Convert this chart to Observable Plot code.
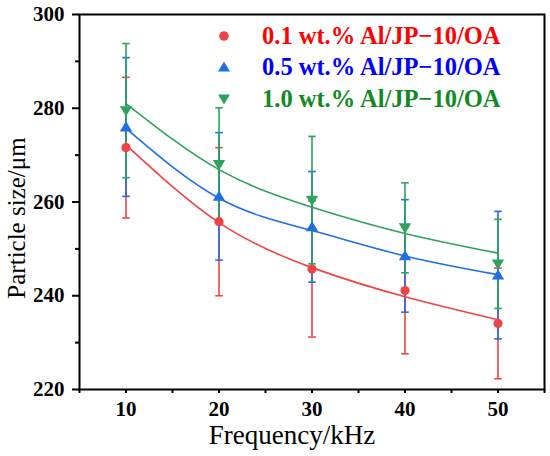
<!DOCTYPE html>
<html><head><meta charset="utf-8">
<script src="https://cdn.jsdelivr.net/npm/d3@7"></script>
<script src="https://cdn.jsdelivr.net/npm/@observablehq/plot@0.6"></script>
<style>
body{margin:0;background:#fff;}
#wrap{position:relative;width:550px;height:456px;}
#legend{position:absolute;left:214px;top:20px;font-family:"Liberation Serif",serif;font-weight:bold;font-size:24.5px;}
#legend .row{height:31.6px;display:flex;align-items:center;white-space:nowrap;}
#legend svg{width:20px;height:20px;margin-right:28px;}
</style></head>
<body><div id="wrap"><div id="legend"></div></div>
<script>
const freq = [10, 20, 30, 40, 50];
const seriesNames = ["0.1 wt.% Al/JP\u221210/OA", "0.5 wt.% Al/JP\u221210/OA", "1.0 wt.% Al/JP\u221210/OA"];
const markerColors = ["#f04343", "#1f6fe3", "#2ea35e"];
const textColors = ["#ff0000", "#0000ff", "#118a25"];
const meanRed = [271.6, 255.8, 245.7, 241.1, 234.1];
const errRed = [15.0, 15.8, 14.5, 13.5, 11.8];
const meanBlue = [276.0, 261.2, 254.7, 248.5, 244.4];
const errBlue = [14.8, 13.6, 11.8, 12.0, 13.6];
const meanGreen = [279.5, 268.0, 260.4, 254.5, 246.8];
const errGreen = [14.3, 12.1, 13.6, 9.6, 9.5];
const fitRed = [272.2, 255.6, 246.0, 239.8, 234.9];
const fitBlue = [275.7, 260.8, 253.9, 248.5, 244.5];
const fitGreen = [281.0, 266.9, 258.9, 253.3, 249.1];
const yTicks = [220, 240, 260, 280, 300];
const yMinor = [230, 250, 270, 290];
const xTicks = [10, 20, 30, 40, 50];
const xMinor = [5, 15, 25, 35, 45, 55];

const means = [meanRed, meanBlue, meanGreen];
const errs = [errRed, errBlue, errGreen];
const fits = [fitRed, fitBlue, fitGreen];
const pts = [], fitPts = [];
means.forEach((m, s) => m.forEach((v, i) => pts.push({s, x: freq[i], y: v, lo: v - errs[s][i], hi: v + errs[s][i]})));
fits.forEach((f, s) => f.forEach((v, i) => fitPts.push({s, x: freq[i], y: v})));

const capSym = {draw(ctx, size){ const w = 3.8; ctx.moveTo(-w, 0); ctx.lineTo(w, 0); }};
const triDown = {draw(ctx, size){ const r = Math.sqrt(size) ; ctx.moveTo(-r*0.62, -r*0.45); ctx.lineTo(r*0.62, -r*0.45); ctx.lineTo(0, r*0.6); ctx.closePath(); }};
const triUp = {draw(ctx, size){ const r = Math.sqrt(size) ; ctx.moveTo(-r*0.62, r*0.45); ctx.lineTo(r*0.62, r*0.45); ctx.lineTo(0, -r*0.6); ctx.closePath(); }};
const symbols = [d3.symbolCircle, triUp, triDown];
const font = "Liberation Serif";

const marks = [];
for (let s = 0; s < 3; s++) {
  const d = pts.filter(p => p.s === s);
  marks.push(Plot.ruleX(d, {x: "x", y1: "lo", y2: "hi", stroke: markerColors[s], strokeWidth: 1.6}));
  marks.push(Plot.dot(d, {x: "x", y: "lo", symbol: capSym, stroke: markerColors[s], strokeWidth: 1.6, r: 4}));
  marks.push(Plot.dot(d, {x: "x", y: "hi", symbol: capSym, stroke: markerColors[s], strokeWidth: 1.6, r: 4}));
}
for (let s = 0; s < 3; s++) {
  marks.push(Plot.line(fitPts.filter(p => p.s === s), {x: "x", y: "y", stroke: markerColors[s], strokeWidth: 1.6, curve: "natural"}));
}
for (let s = 0; s < 3; s++) {
  marks.push(Plot.dot(pts.filter(p => p.s === s), {x: "x", y: "y", symbol: symbols[s], fill: markerColors[s], stroke: "none", r: s === 0 ? 4.6 : 5.6}));
}

const chart = Plot.plot({
  width: 550, height: 456,
  marginLeft: 79, marginTop: 14, marginRight: 6, marginBottom: 67,
  style: {fontFamily: font, background: "white"},
  x: {domain: [5, 55]},
  y: {domain: [220, 300]},
  marks: [
    ...marks,
    Plot.frame({stroke: "black", strokeWidth: 2}),
    Plot.axisY({ticks: yTicks, tickSize: 7, tickPadding: 8, strokeWidth: 2, fontSize: 21, fontWeight: "bold", fill: "black", label: null}),
    Plot.axisY({ticks: yMinor, tickSize: 4, strokeWidth: 2, tickFormat: () => "", label: null}),
    Plot.axisX({ticks: xTicks, tickSize: 4, tickPadding: 8, strokeWidth: 2, fontSize: 21, fontWeight: "bold", fill: "black", label: null}),
    Plot.axisX({ticks: xMinor, tickSize: 4, strokeWidth: 2, tickFormat: () => "", label: null}),
    Plot.text(["Particle size/\u03bcm"], {frameAnchor: "left", textAnchor: "middle", lineAnchor: "middle", rotate: -90, dx: -63, dy: 16, fontSize: 25, fill: "black"}),
    Plot.text(["Frequency/kHz"], {frameAnchor: "bottom", textAnchor: "middle", lineAnchor: "middle", dx: -20, dy: 46, fontSize: 27, fill: "black"})
  ]
});
document.getElementById("wrap").prepend(chart);

const legend = document.getElementById("legend");
const symPaths = [
  '<circle cx="10" cy="10" r="4.8"/>',
  '<path d="M4 14.5 L16 14.5 L10 4.5 Z"/>',
  '<path d="M4 5.5 L16 5.5 L10 15.5 Z"/>'
];
seriesNames.forEach((name, s) => {
  const row = document.createElement("div");
  row.className = "row";
  row.style.color = textColors[s];
  row.innerHTML = `<svg viewBox="0 0 20 20"><g fill="${markerColors[s]}">${symPaths[s]}</g></svg><span>${name}</span>`;
  legend.appendChild(row);
});
</script></body></html>
